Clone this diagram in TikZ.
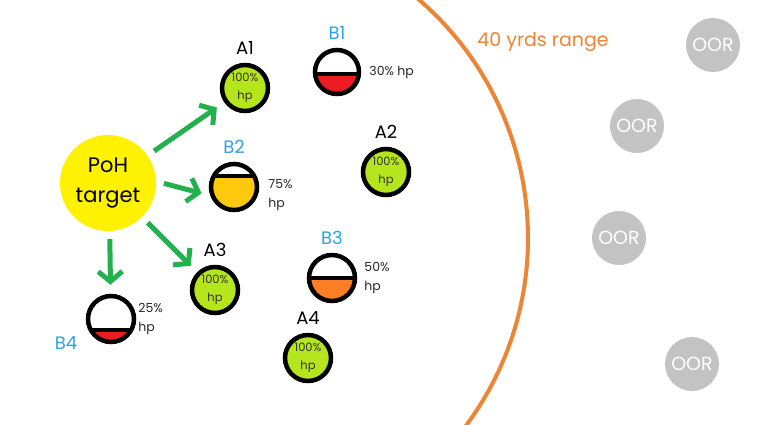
\documentclass[tikz,border=0pt]{standalone}
\usepackage{fontspec}
\setmainfont{Poppins}
\usetikzlibrary{arrows.meta}
\usetikzlibrary{positioning}
\usetikzlibrary{calc}
\definecolor{hpgreen}{HTML}{B5E61D}
\definecolor{hpred}{HTML}{ED1C24}
\definecolor{hpgold}{HTML}{FFC90E}
\definecolor{hporange}{HTML}{FF7F27}
\definecolor{tagblue}{HTML}{2AA3DF}
\definecolor{arrowgreen}{HTML}{22B14C}
\definecolor{oorgray}{HTML}{C3C3C3}
\definecolor{rangeorange}{HTML}{EC8534}
\tikzset{
  % chevron arrow tips
  >={Straight Barb[length=10pt,width=24pt]},
  % health bubbles
  unit/.style={draw, circle, line width=4.5pt, minimum size=46pt, inner sep=0pt},
  fullhp/.style={unit, fill=hpgreen, align=center, font=\fontsize{11.5}{18}\selectfont, text=black!80},
  parthp/.style 2 args={unit, fill=white, path picture={
      \fill[#1] ([yshift=#2]path picture bounding box.west) rectangle (path picture bounding box.south east);
      \draw[line width=4.5pt] ([yshift=#2]path picture bounding box.west) -- ([yshift=#2]path picture bounding box.east);}},
  hptext/.style={inner sep=0pt, align=left, font=\fontsize{12.5}{19}\selectfont, text=black!85}
}

\begin{document}
\begin{tikzpicture}[x=1pt, y=-1pt]
    % Define styles
    \tikzstyle{allytag} = [inner sep=0pt, font=\fontsize{18}{18}\selectfont]
    \tikzstyle{enemytag} = [allytag, text=tagblue]
    \tikzstyle{line} = [draw, ->, arrowgreen, line width=5pt, shorten <=8pt, shorten >=9pt]
    \tikzstyle{oor} = [circle, fill=oorgray, text=white, minimum size=54pt, inner sep=0pt, font=\fontsize{19}{19}\selectfont]

    \useasboundingbox (0,0) rectangle (761,424);

    % Place nodes
    \node [circle, fill=yellow, minimum size=96pt, align=center, font=\fontsize{21}{30}\selectfont] (poh) at (108,183) {PoH\\target};

    \node [fullhp] (a1) at (245,88) {100\%\\hp};
    \node [fullhp] (a2) at (386,172) {100\%\\hp};
    \node [fullhp] (a3) at (215,290) {100\%\\hp};
    \node [fullhp] (a4) at (308,358) {100\%\\hp};
    \node [parthp={hpred}{-2pt}, minimum size=44pt] (b1) at (337,72) {};
    \node [parthp={hpgold}{11pt}] (b2) at (234,187) {};
    \node [parthp={hporange}{0pt}] (b3) at (332,278) {};
    \node [parthp={hpred}{-11pt}] (b4) at (111,319) {};

    \node [allytag, above=8pt of a1] (a1tag) {A1};
    \node [allytag, above=8pt of a2] (a2tag) {A2};
    \node [allytag, above=8pt of a3] (a3tag) {A3};
    \node [allytag, above=8pt of a4] (a4tag) {A4};
    \node [enemytag, above=8pt of b1] (b1tag) {B1};
    \node [enemytag, above=8pt of b2] (b2tag) {B2};
    \node [enemytag, above=8pt of b3] (b3tag) {B3};
    \node [enemytag] (b4tag) at (66,343) {B4};

    \node [hptext, right=8pt of b1] (b1hp) {30\% hp};
    \node [hptext, right=9pt of b2, yshift=-8pt] (b2hp) {75\%\\hp};
    \node [hptext, right=7pt of b3] (b3hp) {50\%\\hp};
    \node [hptext, right=2pt of b4] (b4hp) {25\%\\hp};

    \node [oor] (oor1) at (713,45) {OOR};
    \node [oor] (oor2) at (637,126) {OOR};
    \node [oor] (oor3) at (619,238) {OOR};
    \node [oor] (oor4) at (692,364) {OOR};

    % Range border
    \draw [rangeorange, line width=4pt] ($(213,238)+(-51:315)$) arc [start angle=-51, end angle=38, radius=315];
    \node [text=rangeorange, font=\fontsize{19}{19}\selectfont] (range) at (543,42) {40 yrds range};

    % Draw edges
    \path [line] (poh) -- (a1);
    \path [line] (poh.2) -- (b2.200);
    \path [line] (poh) -- (a3);
    \path [line] (poh.-88) -- (b4);
\end{tikzpicture}
\end{document}
